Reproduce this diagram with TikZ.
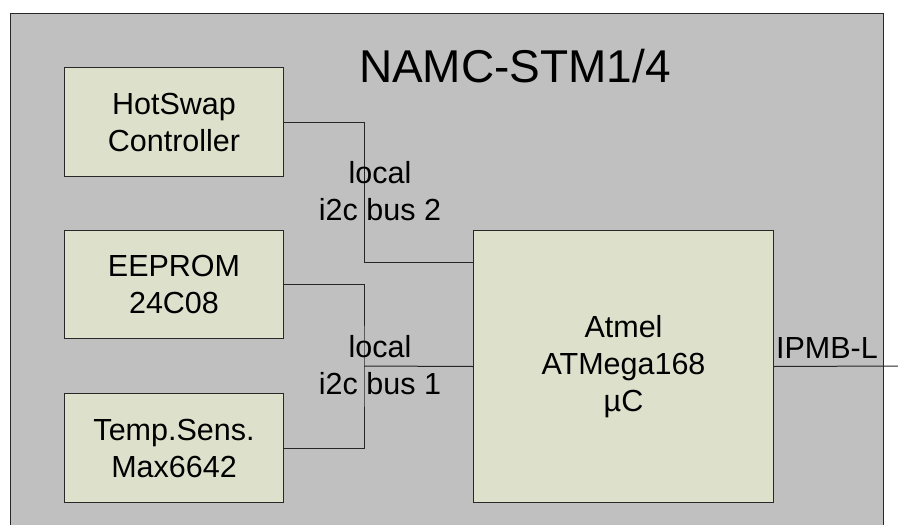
\documentclass[tikz,border=0pt]{standalone}
\usepackage{fontspec}
\setmainfont{Liberation Sans}
\definecolor{bg}{RGB}{192,192,192}
\definecolor{boxfill}{RGB}{221,225,204}
\definecolor{edge}{RGB}{40,40,40}
\begin{document}
\begin{tikzpicture}[x=1pt,y=-1pt,
  block/.style={draw=edge, line width=1pt, fill=boxfill, inner sep=0pt, align=center,
    font=\fontsize{30.5}{37}\selectfont, anchor=north west},
  lbl/.style={inner sep=0pt, align=center, font=\fontsize{30.5}{37}\selectfont},
  wire/.style={draw=black!85, line width=1pt}]
\useasboundingbox (0,0) rectangle (898,525);
\fill[white] (0,0) rectangle (898,525);
\clip (0,0) rectangle (898,525);
\node[draw=edge, fill=bg, line width=1pt, anchor=north west, minimum width=873.5pt,
  minimum height=530pt, inner sep=0pt] (frame) at (9.5,12.5) {};
\node[font=\fontsize{46}{56}\selectfont, anchor=base, inner sep=0pt] (title) at (515,82) {NAMC-STM1/4};
\node[block, minimum width=219pt, minimum height=109pt] (hs) at (64,67) {HotSwap\\Controller};
\node[block, minimum width=219pt, minimum height=108pt] (ee) at (64,230) {EEPROM\\24C08};
\node[block, minimum width=219pt, minimum height=109pt] (ts) at (64,393) {Temp.Sens.\\Max6642};
\node[block, minimum width=300pt, minimum height=272pt] (mc) at (473,230) {Atmel\\ATMega168\\µC};
\coordinate (b2) at (364,262);
\coordinate (b1) at (364,366);
\coordinate (ipmb) at (898,366);
\draw[wire] (hs.east) -| (b2) -- (b2 -| mc.west);
\draw[wire] (ee.east) -| (b1) |- (ts.east);
\draw[wire] (b1) -- (mc.west);
\draw[wire] (mc.east) -- (ipmb);
\node[lbl, anchor=north] (l2) at (380,161) {local\\i2c bus 2};
\node[lbl, anchor=north] (l1) at (380,335) {local\\i2c bus 1};
\node[lbl, anchor=base] (ip) at (827,358) {IPMB-L};
\end{tikzpicture}
\end{document}
